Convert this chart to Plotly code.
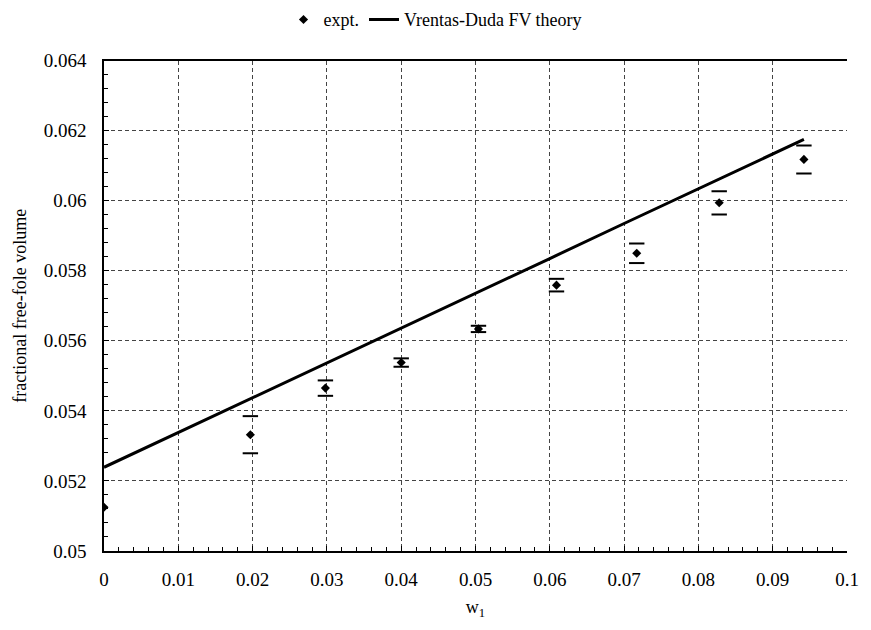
import plotly.graph_objects as go

# Experimental fractional free volume vs. solvent weight fraction w1
w1_expt = [0.0, 0.0197, 0.0298, 0.0400, 0.0504, 0.0609, 0.0717, 0.0828, 0.0942]
fv_expt = [0.05125, 0.05332, 0.05465, 0.05538, 0.05634, 0.05759, 0.05850, 0.05994, 0.06118]
fv_err = [0.0, 0.00053, 0.00022, 0.00012, 0.00009, 0.00018, 0.00028, 0.00033, 0.00040]

# Vrentas-Duda free-volume theory prediction
w1_theory = [0.0, 0.01, 0.02, 0.03, 0.04, 0.05, 0.06, 0.07, 0.08, 0.09, 0.0942]
fv_theory = [0.05239, 0.05338, 0.05437, 0.05537, 0.05636, 0.05736, 0.05835, 0.05935,
             0.06034, 0.06133, 0.06175]

x_ticks = [0, 0.01, 0.02, 0.03, 0.04, 0.05, 0.06, 0.07, 0.08, 0.09, 0.1]
x_labels = ["0", "0.01", "0.02", "0.03", "0.04", "0.05", "0.06", "0.07", "0.08", "0.09", "0.1"]
y_ticks = [0.05, 0.052, 0.054, 0.056, 0.058, 0.06, 0.062, 0.064]
y_labels = ["0.05", "0.052", "0.054", "0.056", "0.058", "0.06", "0.062", "0.064"]

FONT = "Liberation Serif"

fig = go.Figure()

# error-bar caps (short horizontal dashes above and below each point)
cap_x, cap_y = [], []
for x, y, e in zip(w1_expt, fv_expt, fv_err):
    if e > 0:
        cap_x += [x, x]
        cap_y += [y + e, y - e]
fig.add_trace(go.Scatter(
    x=cap_x, y=cap_y, mode="markers", showlegend=False, hoverinfo="skip",
    marker=dict(symbol="line-ew", size=11, line=dict(color="black", width=2)),
))

fig.add_trace(go.Scatter(
    x=w1_expt, y=fv_expt, mode="markers", name="expt.",
    marker=dict(symbol="diamond", size=7, color="black"),
))

fig.add_trace(go.Scatter(
    x=w1_theory, y=fv_theory, mode="lines", name="Vrentas-Duda FV theory",
    line=dict(color="black", width=3),
))

fig.update_layout(
    width=871, height=630,
    margin=dict(l=104, r=16, t=52, b=79),
    paper_bgcolor="white", plot_bgcolor="white",
    font=dict(family=FONT, size=18, color="black"),
    legend=dict(orientation="h", xref="container", x=0.5, xanchor="center",
                yref="container", y=0.998, yanchor="top",
                font=dict(family=FONT, size=18, color="black"), itemwidth=30,
                bgcolor="rgba(0,0,0,0)"),
    showlegend=True,
)

tick_font = dict(family=FONT, size=19, color="black")
title_font = dict(family=FONT, size=18, color="black")

fig.update_xaxes(
    range=[0, 0.1], tickvals=x_ticks, ticktext=x_labels,
    tickfont=tick_font, ticklabelstandoff=10,
    showline=True, linecolor="black", linewidth=1.5, mirror=True,
    ticks="inside", ticklen=5, tickcolor="black",
    showgrid=True, gridcolor="#444", gridwidth=1, griddash="4px,3px",
    minor=dict(dtick=0.002, ticks="inside", ticklen=4, tickcolor="black", showgrid=False),
    zeroline=False,
    title=dict(text="w<sub>1</sub>", font=title_font, standoff=12),
)
fig.update_yaxes(
    range=[0.05, 0.064], tickvals=y_ticks, ticktext=y_labels,
    tickfont=tick_font, ticklabelstandoff=12,
    showline=True, linecolor="black", linewidth=1.5, mirror=False,
    ticks="inside", ticklen=5, tickcolor="black",
    showgrid=True, gridcolor="#444", gridwidth=1, griddash="4px,3px",
    minor=dict(dtick=0.0004, ticks="inside", ticklen=4, tickcolor="black", showgrid=False),
    zeroline=False,
    title=dict(text="fractional free-fole volume", font=title_font, standoff=12),
)

fig.write_html("out.html")
